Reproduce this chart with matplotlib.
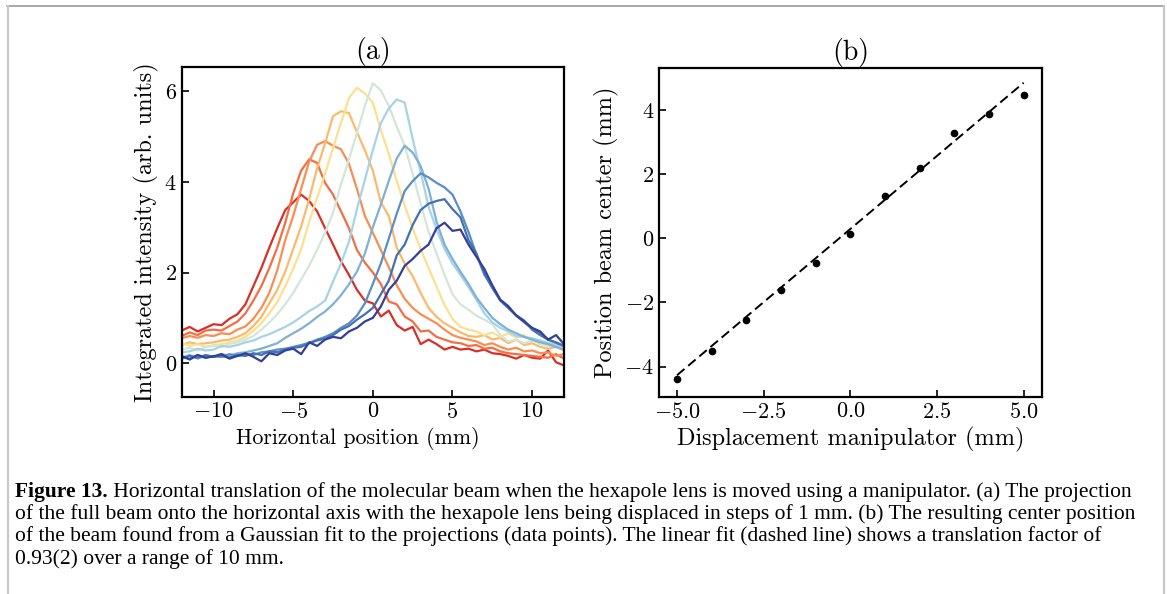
import numpy as np
import matplotlib
matplotlib.use('Agg')
import matplotlib.pyplot as plt
from matplotlib.lines import Line2D

plt.rcParams['font.family'] = 'serif'
plt.rcParams['font.serif'] = ['cmr10']
plt.rcParams['mathtext.fontset'] = 'cm'
plt.rcParams['axes.formatter.use_mathtext'] = True
plt.rcParams['axes.unicode_minus'] = True

# (a) projections, sampled every 0.5 mm from -12 to 12 mm
x_pos = np.linspace(-12, 12, 49)

proj_m5 = [0.72, 0.80, 0.70, 0.78, 0.86, 0.84, 0.98, 1.08, 1.30, 1.70,
           2.10, 2.55, 2.98, 3.38, 3.55, 3.72, 3.58, 3.35, 2.98, 2.62,
           2.25, 1.95, 1.62, 1.38, 1.32, 1.03, 1.16, 0.84, 0.72, 0.80,
           0.42, 0.52, 0.42, 0.30, 0.36, 0.30, 0.32, 0.26, 0.30, 0.22,
           0.20, 0.16, 0.10, 0.18, 0.12, 0.10, 0.28, 0.02, -0.05]
proj_m4 = [0.60, 0.68, 0.62, 0.72, 0.74, 0.72, 0.82, 0.92, 1.10, 1.38,
           1.70, 2.10, 2.55, 3.10, 3.75, 4.25, 4.50, 4.42, 3.98, 3.72,
           3.35, 2.98, 2.50, 2.22, 2.00, 1.75, 1.36, 1.30, 1.03, 0.92,
           0.70, 0.72, 0.58, 0.52, 0.46, 0.44, 0.38, 0.40, 0.32, 0.34,
           0.26, 0.22, 0.20, 0.18, 0.16, 0.14, 0.12, 0.20, 0.10]
proj_m3 = [0.55, 0.60, 0.56, 0.62, 0.60, 0.66, 0.64, 0.74, 0.81, 0.98,
           1.22, 1.55, 2.05, 2.72, 3.25, 3.85, 4.45, 4.82, 4.90, 4.80,
           4.72, 4.40, 3.85, 3.25, 2.88, 2.50, 2.12, 1.72, 1.42, 1.22,
           1.08, 0.98, 0.88, 0.74, 0.62, 0.56, 0.52, 0.48, 0.40, 0.44,
           0.36, 0.30, 0.34, 0.26, 0.28, 0.22, 0.24, 0.16, 0.20]
proj_m2 = [0.40, 0.46, 0.42, 0.44, 0.46, 0.50, 0.52, 0.58, 0.66, 0.82,
           1.02, 1.32, 1.62, 2.02, 2.52, 3.02, 3.62, 4.30, 4.85, 5.45,
           5.56, 5.52, 5.10, 4.70, 4.25, 3.55, 3.25, 2.55, 2.20, 1.92,
           1.55, 1.22, 1.02, 0.88, 0.78, 0.68, 0.60, 0.58, 0.62, 0.52,
           0.56, 0.44, 0.52, 0.40, 0.44, 0.36, 0.32, 0.36, 0.28]
proj_m1 = [0.44, 0.38, 0.42, 0.36, 0.40, 0.42, 0.46, 0.50, 0.58, 0.72,
           0.88, 1.10, 1.35, 1.70, 2.08, 2.52, 3.12, 3.65, 4.18, 4.75,
           5.30, 5.85, 6.08, 5.95, 5.75, 5.15, 4.62, 4.02, 3.48, 2.98,
           2.52, 2.10, 1.69, 1.28, 0.98, 0.80, 0.74, 0.70, 0.62, 0.68,
           0.58, 0.66, 0.56, 0.62, 0.48, 0.50, 0.40, 0.44, 0.34]
proj_0 = [0.30, 0.34, 0.28, 0.36, 0.38, 0.36, 0.42, 0.46, 0.52, 0.60,
          0.74, 0.90, 1.08, 1.30, 1.55, 1.85, 2.15, 2.50, 2.88, 3.32,
          3.95, 4.50, 5.08, 5.68, 6.18, 6.02, 5.68, 5.22, 4.80, 4.18,
          3.52, 2.90, 2.42, 1.95, 1.52, 1.30, 1.18, 1.05, 0.96, 0.86,
          0.62, 0.48, 0.52, 0.44, 0.50, 0.42, 0.38, 0.40, 0.30]
proj_p1 = [0.24, 0.26, 0.32, 0.28, 0.30, 0.38, 0.36, 0.40, 0.46, 0.50,
           0.58, 0.64, 0.72, 0.80, 0.90, 1.02, 1.15, 1.25, 1.38, 1.80,
           2.20, 2.68, 3.40, 4.05, 4.70, 5.30, 5.62, 5.82, 5.75, 4.95,
           4.22, 3.45, 2.95, 2.52, 2.20, 1.95, 1.68, 1.40, 1.10, 0.90,
           0.78, 0.70, 0.60, 0.58, 0.55, 0.50, 0.45, 0.42, 0.35]
proj_p2 = [0.12, 0.18, 0.10, 0.16, 0.14, 0.20, 0.16, 0.22, 0.24, 0.28,
           0.32, 0.38, 0.44, 0.56, 0.66, 0.76, 0.88, 1.02, 1.14, 1.30,
           1.50, 1.74, 2.02, 2.42, 3.00, 3.50, 4.02, 4.52, 4.80, 4.65,
           4.35, 3.85, 3.12, 2.62, 2.30, 2.02, 1.75, 1.45, 1.22, 1.00,
           0.86, 0.74, 0.66, 0.58, 0.52, 0.46, 0.42, 0.36, 0.30]
proj_p3 = [0.14, 0.10, 0.18, 0.12, 0.16, 0.14, 0.20, 0.16, 0.20, 0.18,
           0.24, 0.26, 0.30, 0.32, 0.36, 0.40, 0.45, 0.52, 0.58, 0.66,
           0.78, 0.88, 1.05, 1.32, 1.75, 2.20, 2.75, 3.30, 3.80, 4.02,
           4.19, 4.10, 3.98, 3.88, 3.72, 3.35, 2.90, 2.40, 1.95, 1.68,
           1.40, 1.22, 1.05, 0.90, 0.76, 0.66, 0.52, 0.45, 0.38]
proj_p4 = [0.10, 0.16, 0.12, 0.18, 0.14, 0.16, 0.12, 0.18, 0.16, 0.22,
           0.18, 0.26, 0.24, 0.30, 0.34, 0.36, 0.44, 0.50, 0.54, 0.62,
           0.74, 0.82, 0.96, 1.08, 1.22, 1.52, 1.82, 2.38, 2.62, 3.05,
           3.38, 3.52, 3.58, 3.62, 3.40, 3.22, 2.72, 2.42, 1.98, 1.66,
           1.38, 1.22, 1.06, 0.94, 0.74, 0.62, 0.52, 0.46, 0.38]
proj_p5 = [0.16, 0.08, 0.18, 0.12, 0.15, 0.20, 0.10, 0.16, 0.22, 0.14,
           0.04, 0.22, 0.18, 0.28, 0.32, 0.20, 0.46, 0.38, 0.52, 0.58,
           0.55, 0.70, 0.78, 0.92, 1.00, 1.25, 1.62, 1.82, 2.15, 2.30,
           2.48, 2.62, 2.98, 3.10, 2.92, 2.95, 2.62, 2.35, 2.08, 1.72,
           1.40, 1.26, 1.05, 0.92, 0.78, 0.70, 0.52, 0.62, 0.42]

# (b) beam centre vs manipulator displacement
displacement = [-5, -4, -3, -2, -1, 0, 1, 2, 3, 4, 5]
beam_center = [-4.40, -3.50, -2.54, -1.61, -0.77, 0.13, 1.33, 2.18, 3.28, 3.88, 4.47]
fit_x = [-5, 5]
fit_y = [-4.27, 4.85]

caption_bold = "Figure 13."
caption_lines = [
    " Horizontal translation of the molecular beam when the hexapole lens is moved using a manipulator. (a) The projection",
    "of the full beam onto the horizontal axis with the hexapole lens being displaced in steps of 1 mm. (b) The resulting center position",
    "of the beam found from a Gaussian fit to the projections (data points). The linear fit (dashed line) shows a translation factor of",
    "0.93(2) over a range of 10 mm.",
]

profiles = [proj_m5, proj_m4, proj_m3, proj_m2, proj_m1, proj_0,
            proj_p1, proj_p2, proj_p3, proj_p4, proj_p5]
# red -> yellow -> blue, one colour per manipulator step
colors = ['#d73027', '#f46d43', '#f98e52', '#fdb96a', '#fde08f', '#d2e6da',
          '#a6d3e6', '#7eb1d5', '#5a8ec4', '#4371b1', '#333f98']

W, H = 1167, 594
fig = plt.figure(figsize=(W / 100, H / 100), dpi=100)

ax1 = fig.add_axes([181.7 / W, 1 - 396.7 / H, (564 - 181.7) / W, (396.7 - 67.3) / H])
ax2 = fig.add_axes([659 / W, 1 - 396.7 / H, (1041.7 - 659) / W, (396.7 - 68.3) / H])

for prof, col in zip(profiles, colors):
    ax1.plot(x_pos, prof, color=col, lw=1.6)
ax1.set_xlim(-12, 12)
ax1.set_ylim(-0.74, 6.53)
ax1.set_yticks([0, 2, 4, 6])
ax1.set_xlabel('Horizontal position (mm)', fontsize=15.8)
ax1.xaxis.label.set_x((357.5 - 181.7) / (564 - 181.7))
ax1.set_ylabel('Integrated intensity (arb. units)', fontsize=17.5)
ax1.set_title('(a)', fontsize=20, pad=6)

ax2.plot(fit_x, fit_y, color='black', ls=(0, (5, 2.5)), lw=1.4)
ax2.plot(displacement, beam_center, 'o', color='black', ms=4.5)
ax2.set_xlim(-5.52, 5.52)
ax2.set_ylim(-4.94, 5.30)
ax2.set_yticks([-4, -2, 0, 2, 4])
ax2.set_xticks([-5, -2.5, 0, 2.5, 5])
ax2.set_xlabel('Displacement manipulator (mm)', fontsize=17.5)
ax2.set_ylabel('Position beam center (mm)', fontsize=17.5)
ax2.set_title('(b)', fontsize=20, pad=6)

for ax in (ax1, ax2):
    ax.tick_params(direction='in', labelsize=16, length=5, width=1.2)
    for sp in ax.spines.values():
        sp.set_linewidth(1.6)

# caption below the panels
cap_font = dict(family='Liberation Serif', fontsize=15.5)
fig.canvas.draw()
rend = fig.canvas.get_renderer()
x0 = 15 / W
t_bold = fig.text(x0, 1 - 497 / H, caption_bold, fontweight='bold', va='baseline', **cap_font)
bb = t_bold.get_window_extent(renderer=rend)
fig.text(bb.x1 / W, 1 - 497 / H, caption_lines[0], va='baseline', **cap_font)
for i, line in enumerate(caption_lines[1:]):
    fig.text(x0, 1 - (519.3 + 22.2 * i) / H, line, va='baseline', **cap_font)

# page frame lines
fig.add_artist(Line2D([7 / W, 1163 / W], [1 - 6 / H, 1 - 6 / H], color='#9a9a9a', lw=1.2))
fig.add_artist(Line2D([7.5 / W, 7.5 / W], [0, 1 - 6 / H], color='#c8c8c8', lw=1.6))
fig.add_artist(Line2D([1163.5 / W, 1163.5 / W], [0, 1 - 6 / H], color='#c8c8c8', lw=1.6))

fig.savefig('out.png', dpi=100)
